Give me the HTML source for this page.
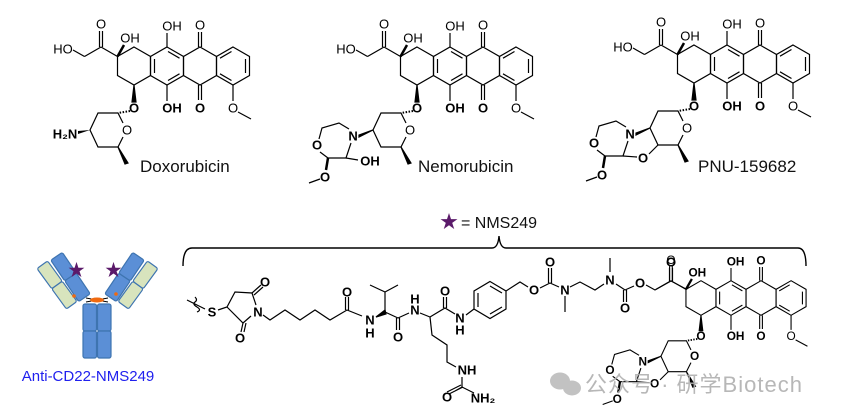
<!DOCTYPE html>
<html><head><meta charset="utf-8"><style>
html,body{margin:0;padding:0;background:#fff;width:841px;height:418px;overflow:hidden}
svg{display:block}
text{font-family:"Liberation Sans","Noto Sans CJK SC",sans-serif;}
.a{font-size:13px;text-anchor:middle;dominant-baseline:central;fill:#000}
.l{font-size:17px;fill:#111}
</style></head><body>
<svg width="841" height="418" viewBox="0 0 841 418" xmlns="http://www.w3.org/2000/svg">
<defs>
<g id="core" fill="none" stroke="#000" stroke-width="1.2">
<polygon points="-33,-19 -16.5,-9.5 -16.5,9.5 -33,19 -49.5,9.5 -49.5,-9.5"/>
<polygon points="0,-19 16.5,-9.5 16.5,9.5 0,19 -16.5,9.5 -16.5,-9.5"/>
<polygon points="33,-19 49.5,-9.5 49.5,9.5 33,19 16.5,9.5 16.5,-9.5"/>
<polygon points="66,-19 82.5,-9.5 82.5,9.5 66,19 49.5,9.5 49.5,-9.5"/>
<path d="M1,-14.5L12.5,-7.8M12.5,7.8L1,14.5M-12.5,-7L-12.5,7M78.5,-7L78.5,7M64.5,14.5L53,7.8M53,-7.8L64.5,-14.5"/>
<path d="M31.5,-19V-34M34.5,-19V-34M31.5,19V34M34.5,19V34M0,-19V-33M0,19V35M-49.5,-9.5L-66,-19M-67.5,-19V-35M-64.5,-19V-35M-66,-19L-82.5,-9.5M66,19V35M71,46L84,53"/>
<path d="M-49.5,-9.5L-43,-21" stroke-width="2.5"/>
<polygon points="-33,19 -31,36 -35,36" fill="#000"/>
</g>
<g id="sug" fill="none" stroke="#000" stroke-width="1.2">
<path d="M-37,45L-49,47" stroke-dasharray="1.5,1.5" stroke-width="2"/>
<path d="M-44,57L-49,47L-69,47L-77,64L-69,81L-49,81L-44,71"/>
<polygon points="-49,81 -39,97 -42,98" fill="#000"/>
</g>
<g id="morph" fill="none" stroke="#000" stroke-width="1.2">
<polygon points="-77,64 -91,69 -91,71" fill="#000"/>
<path d="M-101,63L-111,57L-128,62L-131,73M-130,86L-122,92L-104,92L-99,77"/>
<path d="M-122,92L-124,104" stroke-width="2.5"/>
<path d="M-130,113L-141,117"/>
</g>
</defs>

<g transform="translate(167,66)">
<use href="#core"/><use href="#sug"/>
<path d="M-82.5,-9.5L-94,-16" stroke="#000" stroke-width="1.2" fill="none"/>
<polygon points="-77,64 -89,65 -89,68" fill="#000"/>
<text class="a" x="-104" y="-17">HO</text>
<text class="a" x="-66" y="-42">O</text>
<text class="a" x="-37" y="-28">OH</text>
<text class="a" x="5" y="-40">OH</text>
<text class="a" x="33" y="-41">O</text>
<text class="a" x="-33" y="42" font-weight="bold">O</text>
<text class="a" x="5" y="42" font-weight="bold">OH</text>
<text class="a" x="33" y="42" font-weight="bold">O</text>
<text class="a" x="66" y="42">O</text>
<text class="a" x="-40" y="64">O</text>
<text class="a" x="-102" y="68" font-weight="bold">H₂N</text>
</g>
<text class="l" x="140" y="172">Doxorubicin</text>

<g transform="translate(450,66)">
<use href="#core"/><use href="#sug"/><use href="#morph"/>
<path d="M-82.5,-9.5L-94,-16M-104,92L-92,94" stroke="#000" stroke-width="1.2" fill="none"/>
<text class="a" x="-104" y="-17">HO</text>
<text class="a" x="-66" y="-42">O</text>
<text class="a" x="-37" y="-28">OH</text>
<text class="a" x="5" y="-40">OH</text>
<text class="a" x="33" y="-41">O</text>
<text class="a" x="-33" y="42" font-weight="bold">O</text>
<text class="a" x="5" y="42" font-weight="bold">OH</text>
<text class="a" x="33" y="42" font-weight="bold">O</text>
<text class="a" x="66" y="42">O</text>
<text class="a" x="-40" y="64">O</text>
<text class="a" x="-97" y="70" font-weight="bold">N</text>
<text class="a" x="-133" y="79" font-weight="bold">O</text>
<text class="a" x="-80" y="95" font-weight="bold">OH</text>
<text class="a" x="-125" y="111" font-weight="bold">O</text>
</g>
<text class="l" x="418" y="172">Nemorubicin</text>

<g transform="translate(727,64)">
<use href="#core"/><use href="#sug"/><use href="#morph"/>
<path d="M-82.5,-9.5L-94,-16M-104,92L-90,93M-78,90L-69,81" stroke="#000" stroke-width="1.2" fill="none"/>
<text class="a" x="-104" y="-17">HO</text>
<text class="a" x="-66" y="-42">O</text>
<text class="a" x="-37" y="-28">OH</text>
<text class="a" x="5" y="-40">OH</text>
<text class="a" x="33" y="-41">O</text>
<text class="a" x="-33" y="42" font-weight="bold">O</text>
<text class="a" x="5" y="42" font-weight="bold">OH</text>
<text class="a" x="33" y="42" font-weight="bold">O</text>
<text class="a" x="66" y="42">O</text>
<text class="a" x="-40" y="64">O</text>
<text class="a" x="-97" y="70" font-weight="bold">N</text>
<text class="a" x="-133" y="79" font-weight="bold">O</text>
<text class="a" x="-84" y="94" font-weight="bold">O</text>
<text class="a" x="-125" y="111" font-weight="bold">O</text>
</g>
<text class="l" x="698" y="172">PNU-159682</text>

<text x="440" y="228" font-size="18" fill="#5b1a6a" font-family="DejaVu Sans,sans-serif">★</text>
<text x="461" y="228" font-size="16" fill="#111">= NMS249</text>
<path d="M183,266Q183,248 192,248L492,248Q498,248 499,236Q500,248 506,248L798,248Q806,248 806,266" fill="none" stroke="#000" stroke-width="1.4"/>

<g transform="translate(731,298) scale(0.91)">
<use href="#core"/><use href="#sug"/><use href="#morph"/>
<path d="M-104,92L-90,93M-78,90L-69,81" stroke="#000" stroke-width="1.2" fill="none"/>
<text class="a" x="-66" y="-42">O</text>
<text class="a" x="-37" y="-28" font-weight="bold">OH</text>
<text class="a" x="5" y="-40" font-weight="bold">OH</text>
<text class="a" x="33" y="-41" font-weight="bold">O</text>
<text class="a" x="-33" y="42" font-weight="bold">O</text>
<text class="a" x="5" y="42" font-weight="bold">OH</text>
<text class="a" x="33" y="42" font-weight="bold">O</text>
<text class="a" x="66" y="42">O</text>
<text class="a" x="-40" y="64" font-weight="bold">O</text>
<text class="a" x="-97" y="70" font-weight="bold">N</text>
<text class="a" x="-133" y="79" font-weight="bold">O</text>
<text class="a" x="-84" y="94" font-weight="bold">O</text>
<text class="a" x="-125" y="111" font-weight="bold">O</text>
</g>

<g fill="none" stroke="#000" stroke-width="1.2">
<path d="M187,300L205,309M195,297q3,3 0,5t2,5t0,5"/>
<path d="M218,310L227,307L235,292L252,293L256,305M251,316L243,323L227,307"/>
<path d="M252,293L261,285M254,295L263,287M243,323L241,332M246,323L244,332"/>
<path d="M263,315L270,320L285,310L300,320L315,310L330,320L347,310L362,316"/>
<path d="M345.5,310V297M348.5,310V297"/>
<path d="M385,312L385,292L370,285M385,292L398,285M385,312L398,318L409,313M396.5,318V330M399.5,318V330"/>
<polygon points="376,317 385,310 386,314" fill="#000"/>
<path d="M420,313L430,317L445,308L455,314M443.5,308V297M446.5,308V297"/>
<path d="M430,317L432,335L447,345L447,362L456,367M462,377V387M455,391L462,387L474,393M463,387L449,394M461,385L447,392"/>
<polygon points="490,281.5 506,291 506,309 490,318.5 474,309 474,291"/>
<path d="M490,286L502,293M502,307L490,314M478,293V307"/>
<path d="M466,315L474,309M506,291L520,282L528,287M540,288L550,283L559,287M548.5,283V268M551.5,283V268"/>
<path d="M565,296V312M570,287L580,282L595,290L604,284M610,272V258M616,284L625,290L634,286M623.5,290V302M626.5,290V302M646,285L655,290L671,281L686,289M669.5,281V268M672.5,281V268"/>
</g>
<g font-weight="bold">
<text class="a" x="212" y="312">S</text>
<text class="a" x="265" y="282">O</text>
<text class="a" x="258" y="312">N</text>
<text class="a" x="240" y="338">O</text>
<text class="a" x="347" y="292">O</text>
<text class="a" x="370" y="320">N</text>
<text class="a" x="370" y="333">H</text>
<text class="a" x="398" y="337">O</text>
<text class="a" x="415" y="299">H</text>
<text class="a" x="415" y="310">N</text>
<text class="a" x="445" y="291">O</text>
<text class="a" x="460" y="318">N</text>
<text class="a" x="460" y="330">H</text>
<text class="a" x="467" y="370">NH</text>
<text class="a" x="447" y="397">O</text>
<text class="a" x="483" y="398">NH₂</text>
<text class="a" x="534" y="290">O</text>
<text class="a" x="550" y="262">O</text>
<text class="a" x="565" y="290">N</text>
<text class="a" x="610" y="280">N</text>
<text class="a" x="625" y="308">O</text>
<text class="a" x="640" y="283">O</text>
<text class="a" x="671" y="262">O</text>
</g>

<g stroke="#3e74b0" stroke-width="1.2">
<rect x="83" y="304" width="13.5" height="27" rx="2" fill="#5b8fd6"/>
<rect x="83" y="331" width="13.5" height="27" rx="2" fill="#5b8fd6"/>
<rect x="97.5" y="304" width="13.5" height="27" rx="2" fill="#5b8fd6"/>
<rect x="97.5" y="331" width="13.5" height="27" rx="2" fill="#5b8fd6"/>
<g transform="translate(70.5,277) rotate(56)">
<rect x="-25" y="-7" width="25" height="14" rx="2" fill="#5b8fd6"/><rect x="0" y="-7" width="25" height="14" rx="2" fill="#5b8fd6"/></g>
<g transform="translate(57,285) rotate(54)">
<rect x="-25" y="-6.5" width="25" height="13" rx="2" fill="#d8e4bd"/><rect x="0" y="-6.5" width="25" height="13" rx="2" fill="#d8e4bd"/></g>
<g transform="translate(124.5,277) rotate(-56)">
<rect x="-25" y="-7" width="25" height="14" rx="2" fill="#5b8fd6"/><rect x="0" y="-7" width="25" height="14" rx="2" fill="#5b8fd6"/></g>
<g transform="translate(138,285) rotate(-54)">
<rect x="-25" y="-6.5" width="25" height="13" rx="2" fill="#d8e4bd"/><rect x="0" y="-6.5" width="25" height="13" rx="2" fill="#d8e4bd"/></g>
</g>
<path d="M86,298L108,302M86,302L108,298" stroke="#000" stroke-width="1"/>
<ellipse cx="97" cy="300" rx="7" ry="2.5" fill="#f06a10"/>
<circle cx="74" cy="296" r="1.8" fill="#f06a10"/><circle cx="116" cy="294" r="1.8" fill="#f06a10"/>
<text x="68" y="276" font-size="17" fill="#5b1a6a" font-family="DejaVu Sans,sans-serif">★</text>
<text x="105" y="276" font-size="17" fill="#5b1a6a" font-family="DejaVu Sans,sans-serif">★</text>
<text x="88" y="381" font-size="15" fill="#2020ee" text-anchor="middle">Anti-CD22-NMS249</text>

<g fill="#b8b8b8" opacity="0.85">
<ellipse cx="560" cy="381" rx="10" ry="8.5"/><ellipse cx="572" cy="388" rx="9" ry="7.5"/>
</g>
<text x="585" y="392" font-size="22" fill="#b0b0b0" opacity="0.9" letter-spacing="1">公众号 · 研学Biotech</text>
</svg>
</body></html>
